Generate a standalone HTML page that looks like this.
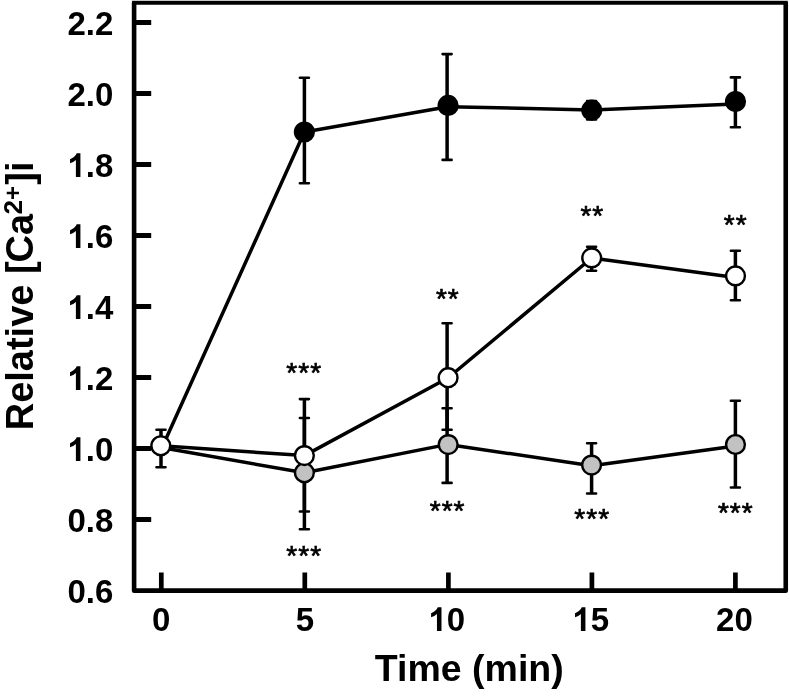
<!DOCTYPE html>
<html><head><meta charset="utf-8"><title>chart</title>
<style>
html,body{margin:0;padding:0;background:#fff;overflow:hidden;}
svg{display:block;filter:grayscale(1);}
text{font-family:"Liberation Sans",sans-serif;fill:#000;}
.b33{font-size:33px;font-weight:bold;}
.b38{font-size:38px;font-weight:bold;}
.st{font-size:28px;stroke:#000;stroke-width:0.7px;letter-spacing:1px;}
</style></head>
<body>
<svg width="790" height="697" viewBox="0 0 790 697">
<rect width="790" height="697" fill="#fff"/>
<rect x="134.1" y="2.55" width="651.65" height="588.1" fill="none" stroke="#000" stroke-width="4.6" stroke-linejoin="round"/>
<rect x="131.8" y="0" width="656.3" height="1" fill="#c6c6c6"/>
<path d="M134.1 22.5H151.2M134.1 93.5H151.2M134.1 164.5H151.2M134.1 235.5H151.2M134.1 306.5H151.2M134.1 377.5H151.2M134.1 448.5H151.2M134.1 519.5H151.2" stroke="#000" stroke-width="4.9" fill="none"/>
<path d="M161.3 572.5V590.6M304.8 572.5V590.6M448.4 572.5V590.6M591.9 572.5V590.6M735.4 572.5V590.6" stroke="#000" stroke-width="4.7" fill="none"/>
<path d="M304.4 418.0V529.2" stroke="#000" stroke-width="3.5" fill="none"/>
<path d="M299.9 418.0H308.9M299.9 529.2H308.9" stroke="#000" stroke-width="2.6" stroke-linecap="round" fill="none"/>
<path d="M447.1 408.3V482.9" stroke="#000" stroke-width="3.5" fill="none"/>
<path d="M442.6 408.3H451.6M442.6 482.9H451.6" stroke="#000" stroke-width="2.6" stroke-linecap="round" fill="none"/>
<path d="M591.6 443.2V493.5" stroke="#000" stroke-width="3.5" fill="none"/>
<path d="M587.1 443.2H596.1M587.1 493.5H596.1" stroke="#000" stroke-width="2.6" stroke-linecap="round" fill="none"/>
<path d="M735.4 400.7V487.5" stroke="#000" stroke-width="3.5" fill="none"/>
<path d="M730.9 400.7H739.9M730.9 487.5H739.9" stroke="#000" stroke-width="2.6" stroke-linecap="round" fill="none"/>
<path d="M304.4 77.7V183.3" stroke="#000" stroke-width="3.5" fill="none"/>
<path d="M299.9 77.7H308.9M299.9 183.3H308.9" stroke="#000" stroke-width="2.6" stroke-linecap="round" fill="none"/>
<path d="M447.1 54.1V159.9" stroke="#000" stroke-width="3.5" fill="none"/>
<path d="M442.6 54.1H451.6M442.6 159.9H451.6" stroke="#000" stroke-width="2.6" stroke-linecap="round" fill="none"/>
<path d="M591.6 101.0V119.5" stroke="#000" stroke-width="3.5" fill="none"/>
<path d="M587.1 101.0H596.1M587.1 119.5H596.1" stroke="#000" stroke-width="2.6" stroke-linecap="round" fill="none"/>
<path d="M735.4 77.4V127.2" stroke="#000" stroke-width="3.5" fill="none"/>
<path d="M730.9 77.4H739.9M730.9 127.2H739.9" stroke="#000" stroke-width="2.6" stroke-linecap="round" fill="none"/>
<path d="M161.0 429.8V467.2" stroke="#000" stroke-width="3.5" fill="none"/>
<path d="M156.5 429.8H165.5M156.5 467.2H165.5" stroke="#000" stroke-width="2.6" stroke-linecap="round" fill="none"/>
<path d="M304.4 399.1V511.5" stroke="#000" stroke-width="3.5" fill="none"/>
<path d="M299.9 399.1H308.9M299.9 511.5H308.9" stroke="#000" stroke-width="2.6" stroke-linecap="round" fill="none"/>
<path d="M447.1 323.3V429.8" stroke="#000" stroke-width="3.5" fill="none"/>
<path d="M442.6 323.3H451.6M442.6 429.8H451.6" stroke="#000" stroke-width="2.6" stroke-linecap="round" fill="none"/>
<path d="M591.6 246.7V270.7" stroke="#000" stroke-width="3.5" fill="none"/>
<path d="M587.1 246.7H596.1M587.1 270.7H596.1" stroke="#000" stroke-width="2.6" stroke-linecap="round" fill="none"/>
<path d="M735.4 250.8V300.3" stroke="#000" stroke-width="3.5" fill="none"/>
<path d="M730.9 250.8H739.9M730.9 300.3H739.9" stroke="#000" stroke-width="2.6" stroke-linecap="round" fill="none"/>
<path d="M161.0 447.5 L304.4 472.8 L447.9 444.4 L591.6 465.8 L735.6 446.0" stroke="#000" stroke-width="3.5" fill="none" stroke-linejoin="round"/>
<path d="M161.6 448.5 L304.4 132.0 L447.9 106.7 L591.8 109.9 L735.4 104.0" stroke="#000" stroke-width="3.5" fill="none" stroke-linejoin="round"/>
<path d="M160.8 445.8 L304.4 455.6 L447.9 378.0 L591.7 258.0 L735.5 277.5" stroke="#000" stroke-width="3.5" fill="none" stroke-linejoin="round"/>
<circle cx="304.4" cy="472.8" r="9.4" fill="#c2c2c2" stroke="#000" stroke-width="2.4"/>
<circle cx="448.2" cy="444.6" r="9.4" fill="#c2c2c2" stroke="#000" stroke-width="2.4"/>
<circle cx="591.6" cy="465.1" r="9.4" fill="#c2c2c2" stroke="#000" stroke-width="2.4"/>
<circle cx="735.5" cy="444.5" r="9.4" fill="#c2c2c2" stroke="#000" stroke-width="2.4"/>
<circle cx="304.4" cy="132.0" r="9.4" fill="#000" stroke="#000" stroke-width="2.4"/>
<circle cx="448.1" cy="105.4" r="9.4" fill="#000" stroke="#000" stroke-width="2.4"/>
<circle cx="591.8" cy="110.2" r="9.4" fill="#000" stroke="#000" stroke-width="2.4"/>
<circle cx="735.5" cy="101.6" r="9.4" fill="#000" stroke="#000" stroke-width="2.4"/>
<circle cx="160.8" cy="445.8" r="9.4" fill="#fff" stroke="#000" stroke-width="2.4"/>
<circle cx="304.4" cy="455.6" r="9.4" fill="#fff" stroke="#000" stroke-width="2.4"/>
<circle cx="448.1" cy="377.7" r="9.4" fill="#fff" stroke="#000" stroke-width="2.4"/>
<circle cx="591.7" cy="257.9" r="9.4" fill="#fff" stroke="#000" stroke-width="2.4"/>
<circle cx="735.5" cy="275.9" r="9.4" fill="#fff" stroke="#000" stroke-width="2.4"/>
<text x="113.3" y="35" text-anchor="end" class="b33">2.2</text>
<text x="113.3" y="106" text-anchor="end" class="b33">2.0</text>
<path d="M806 0H525V1059Q371 915 162 846V1101Q272 1137 401 1237.5Q530 1338 578 1472H806Z" transform="translate(67.43 177.00) scale(0.016113 -0.016113)" fill="#000"/>
<text x="113.3" y="177" text-anchor="end" class="b33">.8</text>
<path d="M806 0H525V1059Q371 915 162 846V1101Q272 1137 401 1237.5Q530 1338 578 1472H806Z" transform="translate(67.43 248.00) scale(0.016113 -0.016113)" fill="#000"/>
<text x="113.3" y="248" text-anchor="end" class="b33">.6</text>
<path d="M806 0H525V1059Q371 915 162 846V1101Q272 1137 401 1237.5Q530 1338 578 1472H806Z" transform="translate(67.43 319.00) scale(0.016113 -0.016113)" fill="#000"/>
<text x="113.3" y="319" text-anchor="end" class="b33">.4</text>
<path d="M806 0H525V1059Q371 915 162 846V1101Q272 1137 401 1237.5Q530 1338 578 1472H806Z" transform="translate(67.43 390.00) scale(0.016113 -0.016113)" fill="#000"/>
<text x="113.3" y="390" text-anchor="end" class="b33">.2</text>
<path d="M806 0H525V1059Q371 915 162 846V1101Q272 1137 401 1237.5Q530 1338 578 1472H806Z" transform="translate(67.43 461.00) scale(0.016113 -0.016113)" fill="#000"/>
<text x="113.3" y="461" text-anchor="end" class="b33">.0</text>
<text x="113.3" y="532" text-anchor="end" class="b33">0.8</text>
<text x="113.3" y="603" text-anchor="end" class="b33">0.6</text>
<text x="161.30" y="631" text-anchor="middle" class="b33">0</text>
<text x="304.83" y="631" text-anchor="middle" class="b33">5</text>
<path d="M806 0H525V1059Q371 915 162 846V1101Q272 1137 401 1237.5Q530 1338 578 1472H806Z" transform="translate(428.50 631.00) scale(0.016113 -0.016113)" fill="#000"/>
<text x="446.85" y="631" text-anchor="start" class="b33">0</text>
<path d="M806 0H525V1059Q371 915 162 846V1101Q272 1137 401 1237.5Q530 1338 578 1472H806Z" transform="translate(572.43 631.00) scale(0.016113 -0.016113)" fill="#000"/>
<text x="590.77" y="631" text-anchor="start" class="b33">5</text>
<text x="734.40" y="631" text-anchor="middle" class="b33">20</text>
<text x="469.3" y="681" text-anchor="middle" class="b38" style="font-size:37.5px">Time (min)</text>
<text transform="translate(33.2 430.3) rotate(-90)" class="b38">Relative [<tspan dx="-1.2">Ca</tspan><tspan dy="-11.5" dx="-0.6" font-size="26">2</tspan><tspan dy="-0.8" font-size="24">+</tspan><tspan dy="12.3" dx="1.3">]i</tspan></text>
<text x="304.2" y="382.1" text-anchor="middle" class="st">***</text>
<text x="304.2" y="564.7" text-anchor="middle" class="st">***</text>
<text x="447.8" y="308.1" text-anchor="middle" class="st">**</text>
<text x="447.6" y="519.9" text-anchor="middle" class="st">***</text>
<text x="592.3" y="224.9" text-anchor="middle" class="st">**</text>
<text x="592.2" y="528.2" text-anchor="middle" class="st">***</text>
<text x="735.7" y="233.9" text-anchor="middle" class="st">**</text>
<text x="735.8" y="521.7" text-anchor="middle" class="st">***</text>
</svg>
</body></html>
